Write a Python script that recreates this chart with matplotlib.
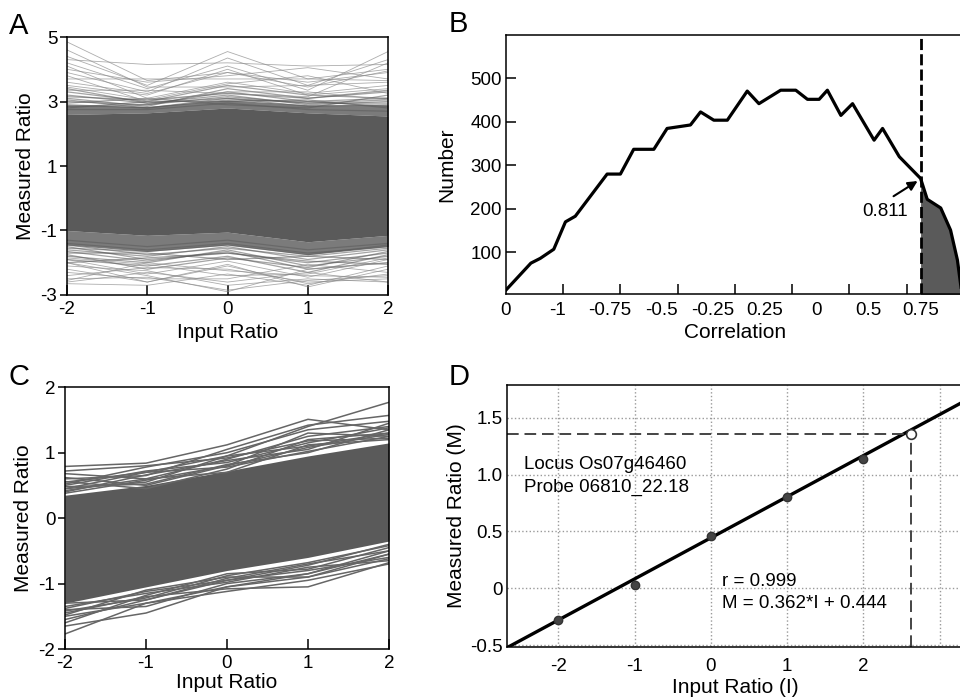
import matplotlib
matplotlib.use("Agg")
import matplotlib.pyplot as plt

plt.rcParams['font.family'] = ['Liberation Sans', 'DejaVu Sans']
plt.rcParams['axes.unicode_minus'] = False

# ---- data --------------------------------------------------------------
input_ratio = [-2, -1, 0, 1, 2]

# panel A: dense core + fringe profiles (measured ratio at each input ratio)
a_core_hi = [2.6, 2.65, 2.8, 2.65, 2.55]
a_core_lo = [-1.0, -1.15, -1.05, -1.35, -1.15]
a_halo_hi = [2.9, 2.85, 3.05, 2.9, 2.9]
a_halo_lo = [-1.45, -1.65, -1.45, -1.75, -1.5]
a_mid_lines = [
    [2.9, 2.8, 3.1, 2.85, 2.9], [3.0, 2.9, 3.3, 3.0, 3.1], [3.2, 2.95, 3.2, 2.9, 3.0],
    [2.8, 3.0, 3.0, 3.05, 2.8], [3.1, 2.85, 3.4, 3.1, 3.3], [2.95, 3.1, 2.9, 2.8, 3.2],
    [3.3, 3.0, 3.5, 3.2, 3.1], [2.75, 2.75, 2.95, 2.75, 2.7], [2.85, 2.9, 3.15, 2.95, 2.95],
    [3.05, 2.8, 3.05, 3.0, 2.85], [3.15, 3.05, 3.25, 3.1, 3.35], [3.4, 2.95, 3.1, 2.95, 3.05],
    [-1.4, -1.6, -1.4, -1.7, -1.5], [-1.6, -1.8, -1.5, -1.9, -1.6], [-1.5, -1.9, -1.7, -2.0, -1.7],
    [-1.8, -2.0, -1.6, -2.1, -1.8], [-1.3, -1.5, -1.3, -1.6, -1.4], [-1.7, -1.7, -1.9, -1.8, -1.9],
    [-1.9, -2.1, -1.8, -2.3, -1.75], [-1.45, -1.75, -1.55, -1.8, -1.55],
    [-1.65, -1.95, -1.65, -2.2, -2.0], [-1.55, -1.65, -1.45, -1.75, -1.45],
    [-1.75, -2.2, -1.85, -2.15, -1.65], [-2.0, -1.85, -1.7, -1.95, -2.05],
]
a_outliers = [
    [4.85, 3.65, 3.9, 3.6, 3.9], [4.3, 4.15, 4.2, 4.1, 4.15], [4.4, 3.5, 4.55, 3.7, 4.0],
    [4.2, 3.4, 4.1, 3.35, 4.55], [4.0, 3.6, 3.8, 4.05, 3.7], [3.9, 3.3, 4.35, 3.5, 4.3],
    [3.7, 3.7, 3.7, 3.7, 3.65], [3.6, 3.25, 3.9, 3.45, 3.95], [4.6, 3.45, 3.45, 3.5, 3.6],
    [4.1, 3.1, 3.6, 3.25, 3.5], [3.45, 3.05, 3.55, 3.8, 3.25], [3.35, 3.35, 3.25, 3.15, 4.2],
    [3.8, 3.0, 3.3, 3.3, 3.05], [3.5, 3.2, 4.0, 3.2, 3.4],
    [-2.5, -2.45, -2.85, -2.55, -2.4], [-2.2, -2.6, -2.05, -2.75, -2.2], [-2.6, -2.3, -2.6, -2.3, -2.6],
    [-2.0, -2.4, -2.9, -2.2, -2.0], [-2.4, -2.15, -2.2, -2.6, -2.5], [-1.9, -2.35, -1.95, -2.45, -1.9],
    [-2.3, -2.5, -2.5, -2.05, -2.3], [-2.1, -2.25, -2.7, -2.5, -2.6], [-2.65, -2.7, -2.35, -2.7, -2.1],
    [-1.85, -2.05, -2.4, -2.35, -1.85], [-2.55, -2.0, -2.25, -2.4, -2.45], [-2.0, -2.6, -2.1, -2.65, -2.35],
]

# panel B: correlation histogram (as a line)
corr = [-1.0, -0.891, -0.85, -0.791, -0.74, -0.697, -0.558, -0.5, -0.442, -0.354, -0.296,
        -0.194, -0.15, -0.092, -0.033, 0.054, 0.105, 0.2, 0.266, 0.317, 0.368, 0.404,
        0.463, 0.514, 0.608, 0.645, 0.718, 0.811, 0.84, 0.899, 0.942, 0.972, 0.99]
number = [13, 75, 86, 107, 170, 183, 280, 280, 337, 337, 385,
          393, 423, 404, 404, 471, 442, 473, 473, 452, 452, 473,
          415, 442, 358, 385, 320, 270, 222, 202, 151, 82, 10]
threshold = 0.811
b_tick_pos = [-0.75, -0.5, -0.25, 0, 0.25, 0.5, 0.75]
b_label_pos = [-1.0, -0.774, -0.548, -0.321, -0.095, 0.131, 0.357, 0.583, 0.81]
b_labels = ['0', '-1', '-0.75', '-0.5', '-0.25', '0.25', '0', '0.5', '0.75']
b_yticks = [100, 200, 300, 400, 500]

# panel C: selected probes
c_core_hi = [0.35, 0.5, 0.72, 0.95, 1.15]
c_core_lo = [-1.3, -1.05, -0.8, -0.6, -0.35]
c_lines = [
    [0.79, 0.84, 1.12, 1.51, 1.35], [0.55, 0.7, 0.95, 1.4, 1.77], [0.6, 0.65, 1.05, 1.42, 1.57],
    [0.52, 0.78, 1.0, 1.35, 1.48], [0.68, 0.6, 0.9, 1.25, 1.4], [0.5, 0.72, 0.85, 1.15, 1.38],
    [0.45, 0.55, 0.95, 1.1, 1.3], [0.62, 0.5, 0.8, 1.3, 1.25], [0.4, 0.66, 0.88, 1.05, 1.45],
    [0.56, 0.45, 0.75, 1.2, 1.3], [0.42, 0.6, 0.7, 1.12, 1.2], [0.48, 0.52, 0.82, 1.0, 1.35],
    [0.72, 0.8, 0.92, 1.18, 1.22], [0.38, 0.58, 0.8, 1.08, 1.28], [0.45, 0.7, 0.78, 1.02, 1.25],
    [-1.77, -1.3, -1.05, -0.85, -0.55], [-1.65, -1.45, -1.05, -0.9, -0.62],
    [-1.5, -1.3, -1.12, -0.95, -0.7], [-1.45, -1.2, -1.08, -1.05, -0.68],
    [-1.55, -1.25, -0.95, -0.8, -0.6], [-1.4, -1.35, -1.0, -0.85, -0.5],
    [-1.35, -1.15, -0.98, -0.75, -0.65], [-1.48, -1.1, -0.9, -0.9, -0.55],
    [-1.3, -1.25, -0.92, -0.7, -0.5], [-1.6, -1.18, -0.85, -0.78, -0.45],
    [-1.42, -1.22, -0.88, -0.68, -0.42], [-1.38, -1.12, -0.95, -0.72, -0.4],
]

# panel D: one probe
d_input = [-2, -1, 0, 1, 2]
d_measured = [-0.28, 0.03, 0.46, 0.80, 1.14]
slope, intercept = 0.362, 0.444
query_i, query_m = 2.63, 1.355
d_yticks = [-0.5, 0, 0.5, 1.0, 1.5]
d_ylabels = ['-0.5', '0', '0.5', '1.0', '1.5']
d_xticks = [-2, -1, 0, 1, 2, 3]
d_xlabels = ['-2', '-1', '0', '1', '2', '']

# ---- figure ------------------------------------------------------------
DARK = '#5a5a5a'
TICK_FS = 13.5
fig = plt.figure(figsize=(9.6, 6.99), dpi=100)

axA = fig.add_axes([0.0698, 0.578, 0.3344, 0.369])
axB = fig.add_axes([0.527, 0.5794, 0.477, 0.3705])
axC = fig.add_axes([0.0677, 0.0715, 0.3375, 0.3745])
axD = fig.add_axes([0.5278, 0.0748, 0.4764, 0.3744])

for ax in (axA, axB, axC, axD):
    for s in ax.spines.values():
        s.set_linewidth(1.1)
    ax.tick_params(labelsize=TICK_FS, width=1.1)

# A
axA.fill_between(input_ratio, a_core_lo, a_core_hi, color=DARK, lw=0)
axA.fill_between(input_ratio, a_core_hi, a_halo_hi, color=DARK, alpha=0.8, lw=0)
axA.fill_between(input_ratio, a_halo_lo, a_core_lo, color=DARK, alpha=0.8, lw=0)
for line in a_mid_lines:
    axA.plot(input_ratio, line, color=DARK, lw=0.9, alpha=0.55)
for line in a_outliers:
    axA.plot(input_ratio, line, color='#8a8a8a', lw=0.6, alpha=0.7)
axA.set_xlim(-2, 2)
axA.set_ylim(-3, 5)
axA.set_xticks(input_ratio)
axA.set_yticks([-3, -1, 1, 3, 5])
axA.tick_params(axis='x', direction='in', length=7, pad=4)
axA.tick_params(axis='y', direction='out', length=5, pad=2)
axA.set_xlabel('Input Ratio', fontsize=15, labelpad=4)
axA.set_ylabel('Measured Ratio', fontsize=15, labelpad=4)

# B
axB.plot(corr, number, color='black', lw=2.3)
i0 = corr.index(threshold)
axB.fill_between(corr[i0:], 0, number[i0:], color=DARK, lw=0)
axB.axvline(threshold, color='black', lw=2, linestyle=(0, (4, 1.5)))
axB.annotate('', xy=(0.798, 264), xytext=(0.693, 229),
             arrowprops=dict(arrowstyle='-|>', color='black', lw=1.5,
                             mutation_scale=14, shrinkA=0, shrinkB=0))
axB.text(0.658, 195, '0.811', fontsize=13.5, ha='center', va='center')
axB.set_xlim(-1, 1)
axB.set_ylim(4, 600)
axB.set_yticks(b_yticks)
axB.set_xticks(b_tick_pos)
axB.set_xticklabels([])
axB.set_xticks(b_label_pos, minor=True)
axB.set_xticklabels(b_labels, minor=True)
axB.tick_params(axis='x', which='major', direction='in', length=7)
axB.tick_params(axis='x', which='minor', length=0, pad=6, labelsize=TICK_FS)
axB.tick_params(axis='y', direction='in', length=7, pad=3)
axB.spines['right'].set_visible(False)
axB.set_xlabel('Correlation', fontsize=15, labelpad=3)
axB.set_ylabel('Number', fontsize=15, labelpad=10)

# C
axC.fill_between(input_ratio, c_core_lo, c_core_hi, color=DARK, lw=0)
for line in c_lines:
    axC.plot(input_ratio, line, color='#666666', lw=1.1)
axC.set_xlim(-2, 2)
axC.set_ylim(-2, 2)
axC.set_xticks(input_ratio)
axC.set_yticks([-2, -1, 0, 1, 2])
axC.tick_params(axis='x', direction='in', length=7, pad=4)
axC.tick_params(axis='y', direction='out', length=5, pad=2)
axC.set_xlabel('Input Ratio', fontsize=15, labelpad=1)
axC.set_ylabel('Measured Ratio', fontsize=15, labelpad=4)

# D
axD.set_xlim(-2.677, 3.32)
axD.set_ylim(-0.515, 1.79)
axD.set_xticks(d_xticks)
axD.set_xticklabels(d_xlabels)
axD.set_yticks(d_yticks)
axD.set_yticklabels(d_ylabels)
axD.tick_params(length=0)
axD.tick_params(axis='x', pad=8)
axD.tick_params(axis='y', pad=3)
axD.grid(True, color='#9a9a9a', linestyle=':', lw=1)
xs = [-2.677, 3.32]
axD.plot(xs, [slope * x + intercept for x in xs], color='black', lw=2.4)
axD.plot(d_input, d_measured, 'o', ms=6, color='#444444', mec='#333333', zorder=3)
axD.plot([-2.677, query_i], [query_m, query_m], color='#444444', lw=1.4, linestyle=(0, (6, 3)))
axD.plot([query_i, query_i], [-0.515, query_m], color='#444444', lw=1.4, linestyle=(0, (6, 3)))
axD.plot([query_i], [query_m], 'o', ms=7, mfc='white', mec='#333333', mew=1.2, zorder=4)
axD.text(-2.45, 0.99, 'Locus Os07g46460\nProbe 06810_22.18', fontsize=13.5,
         va='center', ha='left', linespacing=1.4)
axD.text(0.15, -0.04, 'r = 0.999\nM = 0.362*I + 0.444', fontsize=13.5,
         va='center', ha='left', linespacing=1.4)
axD.spines['right'].set_visible(False)
axD.set_xlabel('Input Ratio (I)', fontsize=15, labelpad=2)
axD.set_ylabel('Measured Ratio (M)', fontsize=15, labelpad=3)

# panel letters
for letter, px, py in [('A', 9, 34), ('B', 449, 32), ('C', 9, 385), ('D', 449, 385)]:
    fig.text(px / 960, 1 - py / 699, letter, fontsize=21, ha='left', va='baseline')

fig.savefig('out.png', dpi=100)
